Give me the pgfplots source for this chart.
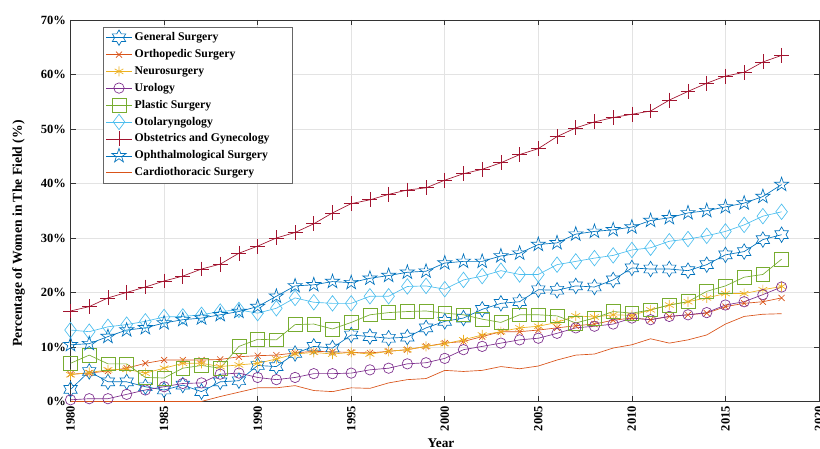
\documentclass[border=0pt]{standalone}
\usepackage{pgfplots}
\pgfplotsset{compat=1.18}
\usepackage{pgfplotstable}
\usepackage{fontspec}
\setmainfont{Liberation Serif}

\definecolor{mblue}{rgb}{0,0.447,0.741}
\definecolor{morange}{rgb}{0.85,0.325,0.098}
\definecolor{myellow}{rgb}{0.929,0.694,0.125}
\definecolor{mpurple}{rgb}{0.494,0.184,0.556}
\definecolor{mgreen}{rgb}{0.466,0.674,0.188}
\definecolor{mcyan}{rgb}{0.301,0.745,0.933}
\definecolor{mred}{rgb}{0.635,0.078,0.184}

\pgfdeclareplotmark{pentagramo}{%
  \pgfpathmoveto{\pgfpointpolar{90}{\pgfplotmarksize}}%
  \pgfpathlineto{\pgfpointpolar{126}{0.382\pgfplotmarksize}}%
  \pgfpathlineto{\pgfpointpolar{162}{\pgfplotmarksize}}%
  \pgfpathlineto{\pgfpointpolar{198}{0.382\pgfplotmarksize}}%
  \pgfpathlineto{\pgfpointpolar{234}{\pgfplotmarksize}}%
  \pgfpathlineto{\pgfpointpolar{270}{0.382\pgfplotmarksize}}%
  \pgfpathlineto{\pgfpointpolar{306}{\pgfplotmarksize}}%
  \pgfpathlineto{\pgfpointpolar{342}{0.382\pgfplotmarksize}}%
  \pgfpathlineto{\pgfpointpolar{18}{\pgfplotmarksize}}%
  \pgfpathlineto{\pgfpointpolar{54}{0.382\pgfplotmarksize}}%
  \pgfpathclose\pgfusepathqstroke}
\pgfdeclareplotmark{hexagramo}{%
  \pgfpathmoveto{\pgfpointpolar{90}{\pgfplotmarksize}}%
  \pgfpathlineto{\pgfpointpolar{120}{0.577\pgfplotmarksize}}%
  \pgfpathlineto{\pgfpointpolar{150}{\pgfplotmarksize}}%
  \pgfpathlineto{\pgfpointpolar{180}{0.577\pgfplotmarksize}}%
  \pgfpathlineto{\pgfpointpolar{210}{\pgfplotmarksize}}%
  \pgfpathlineto{\pgfpointpolar{240}{0.577\pgfplotmarksize}}%
  \pgfpathlineto{\pgfpointpolar{270}{\pgfplotmarksize}}%
  \pgfpathlineto{\pgfpointpolar{300}{0.577\pgfplotmarksize}}%
  \pgfpathlineto{\pgfpointpolar{330}{\pgfplotmarksize}}%
  \pgfpathlineto{\pgfpointpolar{0}{0.577\pgfplotmarksize}}%
  \pgfpathlineto{\pgfpointpolar{30}{\pgfplotmarksize}}%
  \pgfpathlineto{\pgfpointpolar{60}{0.577\pgfplotmarksize}}%
  \pgfpathclose\pgfusepathqstroke}

\pgfplotstableread{
year gs   ortho neuro uro  plastic oto  obgyn ophth cardio
1980 2.2  5.0   4.9   0.3  7.0     13.1 16.6  10.4  0
1981 5.5  5.2   5.3   0.5  8.5     12.8 17.4  10.6  0
1982 3.6  5.6   5.8   0.5  6.9     13.7 19.0  11.9  0
1983 3.6  6.1   5.9   1.3  6.9     14.1 20.0  13.1  0
1984 2.7  7.0   5.2   2.1  4.4     14.7 21.0  13.5  0
1985 2.1  7.6   6.1   2.7  4.3     15.5 22.1  14.4  0
1986 3.0  7.6   7.0   3.3  6.1     15.6 23.0  15.0  0
1987 1.8  7.6   7.0   3.4  6.6     15.9 24.3  15.3  0
1988 3.6  7.7   6.4   5.0  6.1     16.5 25.2  15.9  0.9
1989 3.8  8.2   6.7   5.2  10.1    16.8 27.2  16.5  1.7
1990 6.6  8.4   7.0   4.4  11.4    16.2 28.5  17.4  2.5
1991 6.4  8.5   7.8   4.0  11.3    17.1 30.0  19.3  2.5
1992 8.8  8.9   8.7   4.4  14.1    19.0 31.0  21.2  2.9
1993 10.1 9.2   9.0   5.1  14.2    18.2 32.6  21.4  2.0
1994 9.8  9.1   8.7   5.1  13.3    18.0 34.6  22.0  1.8
1995 12.2 9.0   9.0   5.2  14.5    18.0 36.3  21.8  2.5
1996 11.9 8.9   8.7   5.8  15.9    19.3 37.0  22.6  2.4
1997 11.6 9.2   9.2   6.1  16.3    19.3 38.0  23.1  3.4
1998 11.8 9.5   9.5   6.9  16.5    21.1 38.8  23.7  4.0
1999 13.5 10.1  10.1  7.1  16.6    21.2 39.2  23.9  4.2
2000 14.7 10.7  10.6  7.9  16.2    20.6 40.6  25.4  5.7
2001 15.3 11.0  11.3  9.5  15.9    22.3 41.8  25.7  5.5
2002 16.9 11.9  12.2  10.1 15.1    23.0 42.6  25.7  5.7
2003 18.0 12.8  12.8  10.7 14.5    24.0 43.8  26.7  6.4
2004 18.3 12.8  13.5  11.3 15.9    23.3 45.3  27.2  6.0
2005 20.5 13.1  13.8  11.6 15.9    23.3 46.4  28.8  6.5
2006 20.4 13.5  14.5  12.5 15.7    25.1 48.6  29.1  7.6
2007 21.2 13.9  15.7  13.5 14.4    25.7 50.2  30.7  8.5
2008 21.0 14.2  15.5  13.8 15.3    26.3 51.3  31.2  8.7
2009 22.3 14.9  15.9  14.2 16.5    26.8 52.1  31.5  9.8
2010 24.5 15.3  15.8  15.3 16.2    27.8 52.7  32.0  10.4
2011 24.3 15.0  16.8  15.0 16.8    28.2 53.3  33.2  11.5
2012 24.3 15.6  17.7  15.6 17.7    29.4 55.3  33.7  10.7
2013 24.0 15.9  18.3  15.9 18.3    29.8 56.9  34.6  11.3
2014 25.1 16.2  19.0  16.3 20.2    30.4 58.4  35.0  12.2
2015 26.9 17.4  19.8  17.7 21.2    31.2 59.7  35.7  14.2
2016 27.5 18.0  19.8  18.3 22.8    32.4 60.4  36.4  15.6
2017 29.7 18.3  20.5  19.6 23.3    34.0 62.3  37.6  16.0
2018 30.6 19.0  21.1  21.0 26.1    34.8 63.5  39.8  16.1
}\datatable

\begin{document}
\begin{tikzpicture}
\begin{axis}[
  scale only axis,
  width=561.4pt, height=286.1pt,
  xmin=1980, xmax=2020, ymin=0, ymax=70,
  xtick={1980,1985,...,2020},
  ytick={0,10,...,70},
  /pgf/number format/assume math mode=true,
  /pgf/number format/1000 sep={},
  yticklabel={\pgfmathprintnumber{\tick}\%},
  xticklabel style={rotate=90, anchor=east, font=\fontsize{9.4}{10}\selectfont\bfseries},
  yticklabel style={font=\fontsize{9.4}{10}\selectfont\bfseries},
  xlabel={Year},
  ylabel={Percentage of Women in The Field (\%)},
  xlabel style={at={(axis description cs:0.495,0)}, anchor=center, yshift=-31pt, font=\fontsize{10}{12}\selectfont\bfseries},
  ylabel style={at={(axis description cs:-0.0695,0.44)}, anchor=center, font=\fontsize{10.2}{12}\selectfont\bfseries},
  grid=major,
  major grid style={gray!22, line width=0.5pt},
  axis line style={black!80, line width=0.6pt},
  major tick style={black!80, line width=0.5pt},
  major tick length=4pt,
  every axis plot/.append style={line width=0.5pt},
  legend cell align=left,
  legend style={at={(0.0434,0.9817)}, anchor=north west, draw=black!60, line width=0.5pt,
    font=\fontsize{8.8}{10}\selectfont\bfseries, row sep=1.1pt, inner xsep=2pt, inner ysep=2pt},
  legend image code/.code={\draw[mark repeat=2,mark phase=2,#1] plot coordinates {(0pt,0pt)(9.5pt,0pt)(19pt,0pt)};},
]
\addplot[color=mblue, mark=hexagramo, mark size=5.8pt] table[x=year,y=gs] {\datatable};
\addlegendentry{General Surgery}
\addplot[color=morange, mark=x, mark size=3.2pt] table[x=year,y=ortho] {\datatable};
\addlegendentry{Orthopedic Surgery}
\addplot[color=myellow, mark=asterisk, mark size=3.8pt] table[x=year,y=neuro] {\datatable};
\addlegendentry{Neurosurgery}
\addplot[color=mpurple, mark=o, mark size=3.9pt] table[x=year,y=uro] {\datatable};
\addlegendentry{Urology}
\addplot[color=mgreen, mark=square, mark size=5.2pt] table[x=year,y=plastic] {\datatable};
\addlegendentry{Plastic Surgery}
\addplot[color=mcyan, mark=diamond, mark size=5.8pt] table[x=year,y=oto] {\datatable};
\addlegendentry{Otolaryngology}
\addplot[color=mred, mark=+, mark size=5.6pt] table[x=year,y=obgyn] {\datatable};
\addlegendentry{Obstetrics and Gynecology\hspace*{13pt}}
\addplot[color=mblue, mark=pentagramo, mark size=5.6pt] table[x=year,y=ophth] {\datatable};
\addlegendentry{Ophthalmological Surgery}
\addplot[color=morange, mark=none] table[x=year,y=cardio] {\datatable};
\addlegendentry{Cardiothoracic Surgery}
\coordinate (SW) at (rel axis cs:0,0);
\coordinate (NE) at (rel axis cs:1,1);
\end{axis}
\pgfresetboundingbox
\path[use as bounding box] ([shift={(-52.9pt,-35.6pt)}]SW) rectangle ([shift={(0.75pt,15pt)}]NE);
\end{tikzpicture}
\end{document}
